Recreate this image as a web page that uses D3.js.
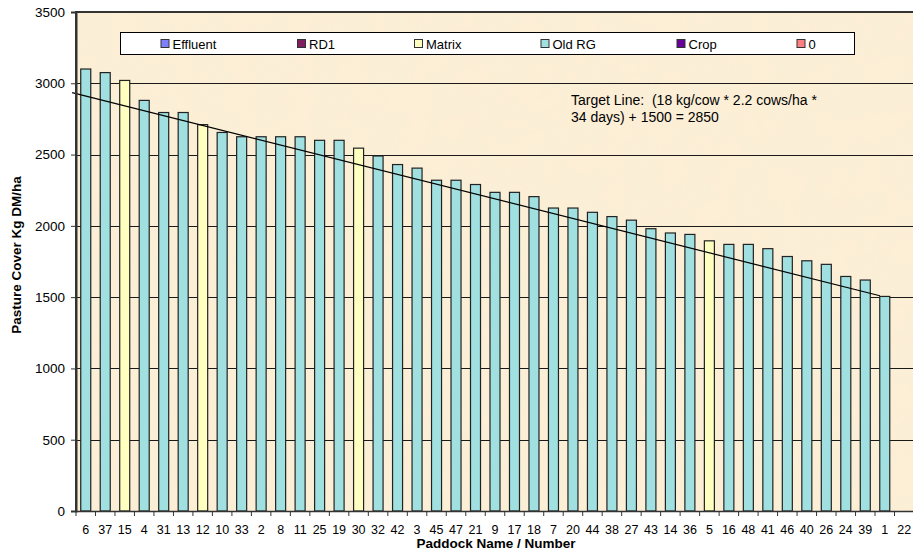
<!DOCTYPE html>
<html lang="en">
<head>
<meta charset="UTF-8">
<title>Pasture cover</title>
<style>
  body { margin: 0; background: #fff; }
  svg text { font-family: "Liberation Sans", Arial, sans-serif; fill: #000; }
</style>
</head>
<body>
<div class="canvas"></div>
<script src="https://d3js.org/d3.v7.min.js"></script>
<script>
// paddocks, in chart order
const paddocks = ["6","37","15","4","31","13","12","10","33","2","8","11","25","19","30","32","42","3","45","47","21","9","17","18","7","20","44","38","27","43","14","36","5","16","48","41","46","40","26","24","39","1","22"];
const cover = [3100,3075,3020,2880,2795,2795,2710,2655,2625,2625,2625,2625,2600,2600,2545,2490,2430,2405,2320,2320,2290,2235,2235,2205,2125,2125,2095,2065,2040,1980,1950,1940,1895,1870,1870,1840,1785,1755,1730,1645,1620,1505,0];
const paddockType = ["Old RG","Old RG","Matrix","Old RG","Old RG","Old RG","Matrix","Old RG","Old RG","Old RG","Old RG","Old RG","Old RG","Old RG","Matrix","Old RG","Old RG","Old RG","Old RG","Old RG","Old RG","Old RG","Old RG","Old RG","Old RG","Old RG","Old RG","Old RG","Old RG","Old RG","Old RG","Old RG","Matrix","Old RG","Old RG","Old RG","Old RG","Old RG","Old RG","Old RG","Old RG","Old RG","Old RG"];
const legendNames = ["Effluent","RD1","Matrix","Old RG","Crop","0"];
const legendColors = ["#8080ff","#7f1f5f","#ffffc0","#a0e0e0","#660099","#ff8080"];
const yTicks = [0,500,1000,1500,2000,2500,3000,3500];
// target line ends: position in paddock slots, cover value
const targetLine = [{pos: -0.2, value: 2935}, {pos: 41.25, value: 1510}];

const W = 913, H = 549;
const m = { left: 76, top: 12, right: 914, bottom: 511 };
const FONT = '"Liberation Sans", Arial, sans-serif';

const svg = d3.select('.canvas').append('svg')
  .attr('width', W).attr('height', H);

const defs = svg.append('defs');
const f = defs.append('filter').attr('id', 'paper')
  .attr('x', 0).attr('y', 0).attr('width', 1).attr('height', 1);
f.append('feTurbulence').attr('type', 'fractalNoise')
  .attr('baseFrequency', 0.035).attr('numOctaves', 3).attr('seed', 4).attr('result', 'n');
f.append('feColorMatrix').attr('in', 'n').attr('type', 'matrix')
  .attr('values', '0 0 0 0 0.93  0 0 0 0 0.86  0 0 0 0 0.72  0 0 0 0.55 -0.22');
f.append('feComposite').attr('in2', 'SourceGraphic').attr('operator', 'in').attr('result', 't');
f.append('feMerge').call(s => { s.append('feMergeNode').attr('in', 'SourceGraphic'); s.append('feMergeNode').attr('in', 't'); });

const x = d3.scaleBand().domain(paddocks).range([m.left, m.right]).paddingInner(0.435).paddingOuter(0.2175);
const step = x.step();
const slot = d3.scaleLinear().domain([0, 1]).range([m.left, m.left + step]);
const y = d3.scaleLinear().domain([0, 3500]).range([m.bottom, m.top]);
const color = d3.scaleOrdinal().domain(legendNames).range(legendColors);

// plot background
svg.append('rect').attr('x', m.left).attr('y', m.top)
  .attr('width', m.right - m.left).attr('height', m.bottom - m.top)
  .attr('fill', '#fcefd6').attr('filter', 'url(#paper)');

// gridlines
svg.append('g').selectAll('line').data(yTicks.filter(d => d > 0 && d < 3500)).join('line')
  .attr('x1', m.left).attr('x2', m.right)
  .attr('y1', d => Math.round(y(d)) + 0.5).attr('y2', d => Math.round(y(d)) + 0.5)
  .attr('stroke', '#1a1a1a').attr('stroke-width', 1);

// bars
const data = paddocks.map((p, i) => ({ name: p, value: cover[i], type: paddockType[i] }));
svg.append('g').selectAll('rect').data(data.filter(d => d.value > 0)).join('rect')
  .attr('x', d => x(d.name) + 0.5)
  .attr('y', d => y(d.value))
  .attr('width', x.bandwidth() - 1)
  .attr('height', d => m.bottom - y(d.value))
  .attr('fill', d => color(d.type))
  .attr('stroke', '#222').attr('stroke-width', 1.2);

// target line
const line = d3.line().x(d => slot(d.pos)).y(d => y(d.value));
svg.append('path').datum(targetLine).attr('d', line)
  .attr('fill', 'none').attr('stroke', '#000').attr('stroke-width', 1.2);

// frame
svg.append('path')
  .attr('d', `M${m.left},${m.bottom}V${m.top}H${m.right}`)
  .attr('fill', 'none').attr('stroke', '#333').attr('stroke-width', 2);

// y axis
const yAxis = svg.append('g').attr('transform', `translate(${m.left},0)`)
  .call(d3.axisLeft(y).tickValues(yTicks).tickFormat(d3.format('d')).tickSize(5).tickPadding(6));
yAxis.select('.domain').attr('stroke', '#333').attr('stroke-width', 2);
yAxis.selectAll('.tick line').attr('stroke', '#333');
yAxis.selectAll('text').attr('font-size', 13.5).attr('font-family', FONT);

// x axis
const xAxis = svg.append('g').attr('transform', `translate(0,${m.bottom})`)
  .call(d3.axisBottom(x).tickSize(0).tickPadding(14));
xAxis.select('.domain').attr('stroke', '#333').attr('stroke-width', 1.5);
xAxis.selectAll('text').attr('font-size', 12.5).attr('font-family', FONT);
svg.append('g').selectAll('line').data(d3.range(paddocks.length + 1)).join('line')
  .attr('x1', d => slot(d)).attr('x2', d => slot(d))
  .attr('y1', m.bottom).attr('y2', m.bottom + 5)
  .attr('stroke', '#333');

// axis titles
svg.append('text').attr('transform', `translate(21,255) rotate(-90)`)
  .attr('text-anchor', 'middle').attr('font-size', 13.5).attr('font-weight', 'bold')
  .text('Pasture Cover Kg DM/ha');
svg.append('text').attr('x', 496).attr('y', 547.5)
  .attr('text-anchor', 'middle').attr('font-size', 13.5).attr('font-weight', 'bold')
  .text('Paddock Name / Number');

// legend
const legendX = [160.5, 297, 414, 540.5, 676.5, 796.5];
const lg = svg.append('g');
lg.append('rect').attr('x', 120.5).attr('y', 32.5).attr('width', 734).attr('height', 22)
  .attr('fill', '#fff').attr('stroke', '#000');
legendNames.forEach((n, i) => {
  lg.append('rect').attr('x', legendX[i] + 0.5).attr('y', 39.5).attr('width', 8).attr('height', 8)
    .attr('fill', color(n)).attr('stroke', '#333');
  lg.append('text').attr('x', legendX[i] + 12).attr('y', 48.5).attr('font-size', 13).text(n);
});

// annotation
const note = svg.append('text').attr('font-size', 14).style('white-space', 'pre');
note.append('tspan').attr('x', 571).attr('y', 105).text('Target Line:  (18 kg/cow * 2.2 cows/ha *');
note.append('tspan').attr('x', 571).attr('y', 122).text('34 days) + 1500 = 2850');
</script>
</body>
</html>
